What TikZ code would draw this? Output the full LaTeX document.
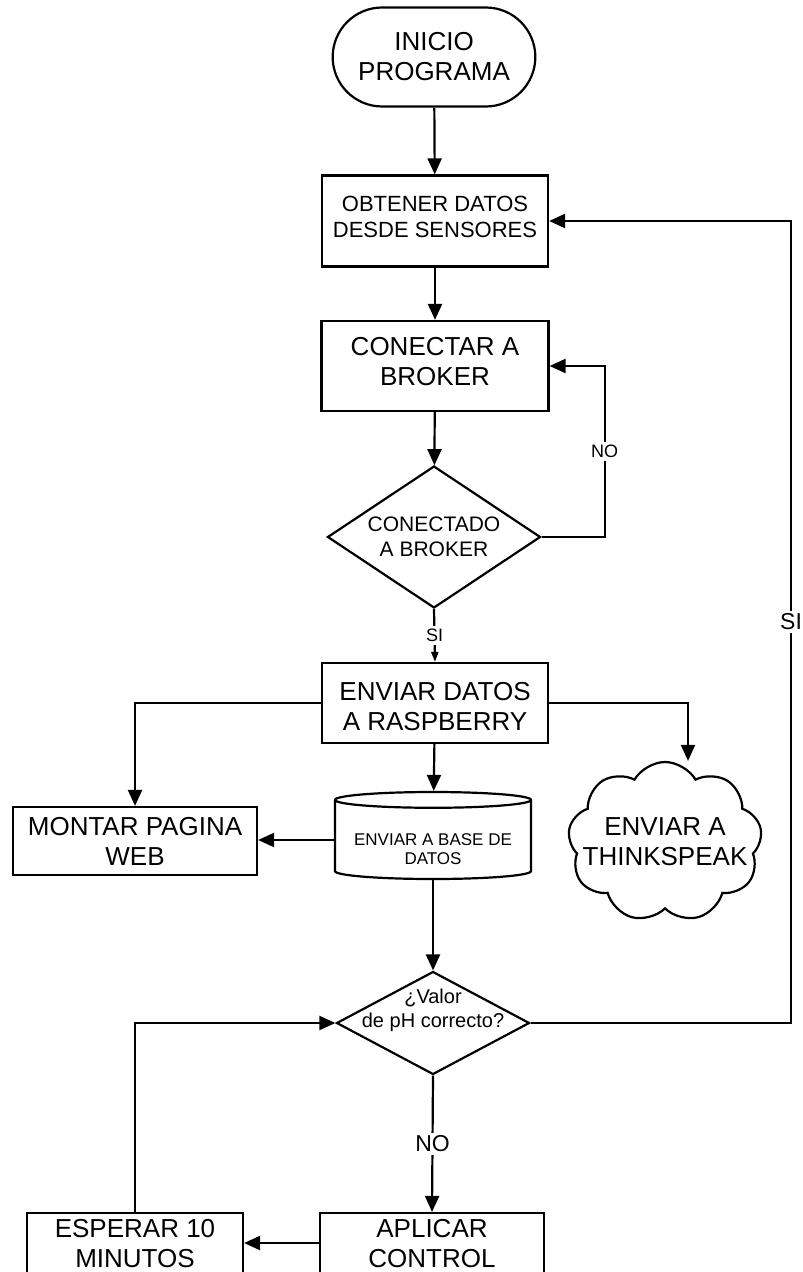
\documentclass[tikz,border=0pt]{standalone}
\usepackage{fontspec}
\setmainfont{Liberation Sans}
\usepackage{tikz}
\usetikzlibrary{shapes.misc}
\usetikzlibrary{shapes.geometric}
\usetikzlibrary{shapes.symbols}
\usetikzlibrary{arrows.meta}
\usetikzlibrary{calc}
\tikzset{ >={Triangle[length=8pt,width=7pt]} }
\tikzset{ start_term/.style = {rounded rectangle, draw, align=center, font=\fontsize{13}{15}\selectfont, minimum width=108pt, minimum height=49.5pt} }
\tikzset{ proc_box/.style = {rectangle, draw, align=center, font=\fontsize{13}{15}\selectfont, inner sep=0pt} }
\tikzset{ decision/.style = {diamond, draw, align=center, inner sep=-20pt} }
\tikzset{ data_base/.style = {cylinder, draw, shape border rotate=90, aspect=0.1, align=center, font=\fontsize{8.5}{9.5}\selectfont, minimum width=98pt, minimum height=43.5pt, inner sep=0pt} }
\tikzset{ cloud_out/.style = {cloud, draw, cloud puffs=9, cloud puff arc=120, align=center, font=\fontsize{13}{15}\selectfont, minimum width=97pt, minimum height=80pt, inner sep=-25pt} }
\tikzset{ on_line/.style = {fill=white, inner sep=1.5pt, font=\fontsize{9}{10}\selectfont} }

\begin{document}
\begin{tikzpicture}[x=0.5pt, y=-0.5pt, line width=1.1pt]
        \useasboundingbox (0,0) rectangle (802,1272);
                % main column
                \node [style=start_term] (inicio) at (434, 57) {INICIO\\PROGRAMA};
                \node [style=proc_box, font=\fontsize{11}{13}\selectfont, text depth=4pt, minimum width=113pt, minimum height=45.5pt] (obtener) at (435, 221) {OBTENER DATOS\\DESDE SENSORES};
                \node [style=proc_box, text depth=5pt, minimum width=113.5pt, minimum height=45pt] (conectar) at (435, 366) {CONECTAR A\\BROKER};
                \node [style=decision, font=\fontsize{10.5}{12.5}\selectfont, minimum width=106.5pt, minimum height=71pt] (conectado) at (434, 537) {CONECTADO\\A BROKER};
                \node [style=proc_box, text height=27.3pt, minimum width=113pt, minimum height=40pt] (enviar) at (435, 703) {ENVIAR DATOS\\A RASPBERRY};
                \node [style=proc_box, minimum width=122pt, minimum height=34pt] (montar) at (135, 841) {MONTAR PAGINA\\WEB};
                \node [style=data_base, text height=24.6pt] (base) at (433, 840) {ENVIAR A BASE DE\\DATOS};
                \node [style=cloud_out] (thingspeak) at (665, 842) {ENVIAR A\\THINKSPEAK};
                \node [style=decision, font=\fontsize{10}{12}\selectfont, text depth=15pt, minimum width=96.5pt, minimum height=51.5pt] (ph_ok) at (433, 1023) {¿Valor\\de pH correcto?};
                \node [style=proc_box, text depth=3pt, minimum width=112pt, minimum height=33pt] (aplicar) at (432, 1246) {APLICAR\\CONTROL};
                \node [style=proc_box, text depth=3pt, minimum width=108pt, minimum height=33pt] (esperar) at (135, 1246) {ESPERAR 10\\MINUTOS};

                % flow
                \draw[->] (inicio) to (obtener);
                \draw[->] (obtener) to (conectar);
                \draw[->] (conectar) to (conectado);
                \draw[->] (conectado.east) -| node [style=on_line, pos=0.75] (no_con) {NO} ($(conectar.east)+(55,0)$) -- (conectar.east);
                \draw[-{Triangle[length=5pt,width=3.5pt]}] (conectado.south) -- node [style=on_line] (si_con) {SI} (enviar.north);
                \draw[->] (enviar.west) -| (montar.north);
                \draw[->] (enviar.east) -| ([xshift=11.5pt]thingspeak.north);
                \draw[->] (enviar) to (base);
                \draw[->] (base.west) -- (base.west -| montar.east);
                \draw[->] (base) to (ph_ok);
                \draw[->] (ph_ok.east) -| node [style=on_line, pos=0.75, font=\fontsize{11.5}{13}\selectfont] (si_ph) {SI} ($(obtener.east)+(242,0)$) -- (obtener.east);
                \draw[->] (ph_ok.south) -- node [style=on_line, font=\fontsize{11.5}{13}\selectfont] (no_ph) {NO} (aplicar.north);
                \draw[->] ([yshift=1.5pt]aplicar.west) -- ([yshift=1.5pt]esperar.east);
                \draw[->] (esperar.north) |- (ph_ok.west);
        \end{tikzpicture}
\end{document}
